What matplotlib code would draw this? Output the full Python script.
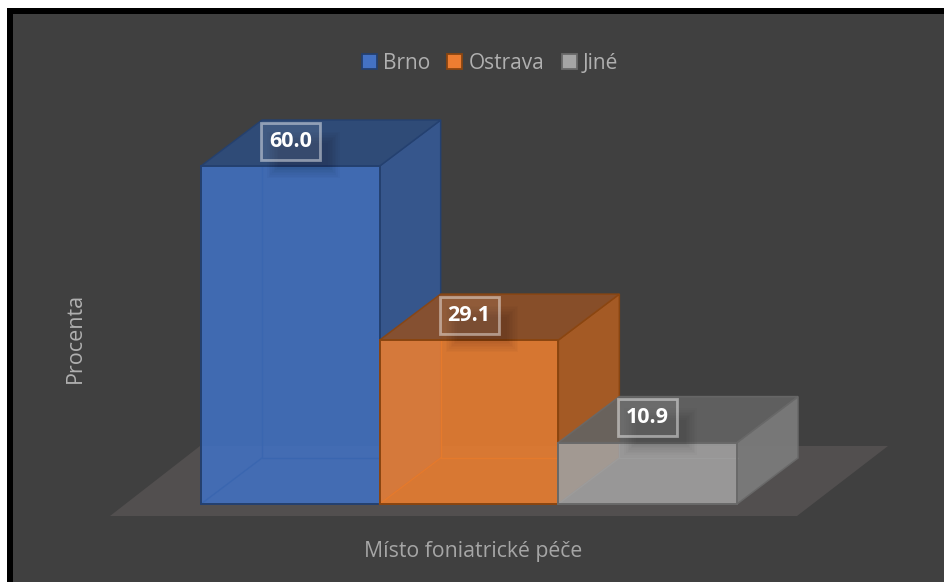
import matplotlib
matplotlib.use("Agg")
import matplotlib.pyplot as plt
from matplotlib.patches import Polygon, Rectangle, Patch

# chart data
CATEGORIES = ["Brno", "Ostrava", "Jiné"]
VALUES = [60.0, 29.1, 10.9]
LABELS = ["60.0", "29.1", "10.9"]
X_TITLE = "Místo foniatrické péče"
Y_TITLE = "Procenta"

# colours per bar
FRONT = ["#4171c2", "#ec7e30", "#a2a2a2"]
LEGEND_FILL = ["#4472c4", "#ed7d31", "#a5a5a5"]
TOP = ["#2e4d7e", "#8f5027", "#636363"]
SIDE = ["#36578f", "#a85b25", "#7a7a7a"]
EDGE = ["#24406f", "#8a4510", "#696969"]
INNER = ["#3a66b0", "#e57a2c", "#9c9c9c"]
BG = "#404040"
FLOOR = "#524f4f"

# pixel scale of the picture
PX_W, PX_H = 944, 582
BAR_PX = 178.67
UNIT_PX = 5.633
X0_PX = 201
Y0_PX = 504
DEPTH_X = 61 / BAR_PX
DEPTH_Y = 46 / UNIT_PX

fig = plt.figure(figsize=(PX_W / 100, PX_H / 100), dpi=100, facecolor="white")
plt.rcParams["font.family"] = ["Open Sans", "DejaVu Sans"]

# background layer in pixels: frame, floor, titles
bg = fig.add_axes([0, 0, 1, 1])
bg.set_xlim(0, PX_W); bg.set_ylim(PX_H, 0); bg.axis("off")
bg.add_patch(Rectangle((7, 8), PX_W - 7, PX_H - 8, facecolor="black", edgecolor="none"))
bg.add_patch(Rectangle((13, 14), PX_W - 13, PX_H - 14, facecolor=BG, edgecolor="none"))
bg.add_patch(Polygon([(110, 516), (797, 516), (888, 446), (200, 446)], facecolor=FLOOR, edgecolor="none"))
bg.text(473, 551, X_TITLE, color="#a6a6a6", fontsize=15.3, ha="center", va="center")
bg.text(75, 338, Y_TITLE, color="#b0b0b0", fontsize=15.5, ha="center", va="center", rotation=90)

# bars layer: x is category position, y is percent
ax = fig.add_axes([0, 0, 1, 1])
ax.patch.set_alpha(0); ax.axis("off")
ax.set_xlim(-0.5 - X0_PX / BAR_PX, -0.5 + (PX_W - X0_PX) / BAR_PX)
ax.set_ylim(-(PX_H - Y0_PX) / UNIT_PX, Y0_PX / UNIT_PX)

positions = range(len(VALUES))
for i, v in enumerate(VALUES):
    l, r = i - 0.5, i + 0.5
    z = 2 + i * 2
    # inner edges seen through the front
    ax.plot([l + DEPTH_X, l + DEPTH_X, r], [v, DEPTH_Y, DEPTH_Y], color=INNER[i], lw=1, zorder=z + 1.2)
    ax.plot([l, l + DEPTH_X], [0, DEPTH_Y], color=INNER[i], lw=1, zorder=z + 1.2)
    # side and top faces
    ax.add_patch(Polygon([(r, 0), (r + DEPTH_X, DEPTH_Y), (r + DEPTH_X, v + DEPTH_Y), (r, v)],
                         facecolor=SIDE[i], edgecolor=EDGE[i], lw=1.1, alpha=0.97, zorder=z))
    ax.add_patch(Polygon([(l, v), (r, v), (r + DEPTH_X, v + DEPTH_Y), (l + DEPTH_X, v + DEPTH_Y)],
                         facecolor=TOP[i], edgecolor=EDGE[i], lw=1.1, alpha=0.9, zorder=z))
    # front face
    ax.bar(i, v, width=1, color=FRONT[i], alpha=0.88, zorder=z + 1)
    ax.bar(i, v, width=1, fill=False, edgecolor=EDGE[i], lw=1.4, zorder=z + 1.3)

# data labels with soft shadow
box_w = 59 / BAR_PX
box_h = 37 / UNIT_PX
for i, v in enumerate(VALUES):
    cy = v + 25 / UNIT_PX
    for k in range(8):
        grow = (7 - k) * 1.6
        ax.add_patch(Rectangle((i + 14 / BAR_PX - 26 / BAR_PX - grow / BAR_PX, cy - 14 / UNIT_PX - 12 / UNIT_PX - grow / UNIT_PX),
                               50 / BAR_PX + 2 * grow / BAR_PX, 24 / UNIT_PX + 2 * grow / UNIT_PX,
                               facecolor="black", edgecolor="none", alpha=0.018, zorder=10))
    ax.add_patch(Rectangle((i - box_w / 2, cy - box_h / 2), box_w, box_h, facecolor=(1, 1, 1, 0.08),
                           edgecolor=(1, 1, 1, 0.45), lw=2, zorder=11))
    ax.text(i, cy, LABELS[i], color="white", fontsize=15.5, fontweight="bold", ha="center", va="center", zorder=12)

# legend
handles = [Patch(facecolor=LEGEND_FILL[i], edgecolor=EDGE[i], lw=1.3, label=CATEGORIES[i]) for i in positions]
leg = ax.legend(handles=handles, ncol=3, loc="center", bbox_to_anchor=(490 / PX_W, 1 - 63.5 / PX_H),
                frameon=False, fontsize=15, handlelength=0.72, handleheight=0.72, handletextpad=0.3,
                columnspacing=0.82, labelcolor="#b0b0b0")

plt.savefig("out.png", dpi=100)
